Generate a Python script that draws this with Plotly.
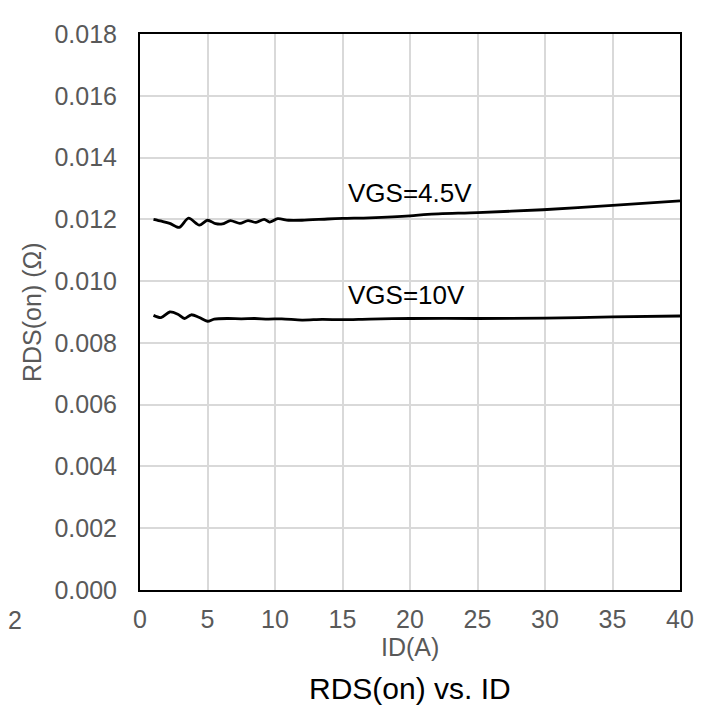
import plotly.graph_objects as go

# ---- data ----
id_45 = [1, 1.6, 2.2, 2.9, 3.6, 4.4, 5.0, 5.6, 6.1, 6.7, 7.4, 8.0, 8.6, 9.2, 9.6, 10.2,
         11, 12, 13.9, 15, 17, 20, 21.3, 25, 29.85, 35, 40]
r_45 = [0.01200, 0.01194, 0.01187, 0.01174, 0.01204, 0.01181, 0.01197, 0.01186, 0.01185,
        0.01196, 0.01187, 0.01196, 0.01190, 0.01200, 0.01191, 0.01202, 0.01197, 0.01197,
        0.01201, 0.01203, 0.01205, 0.01211, 0.01216, 0.01222, 0.01231, 0.01245, 0.01260]

id_10 = [1, 1.55, 2.2, 2.8, 3.3, 3.8, 4.4, 5.0, 5.5, 6.5, 7.5, 8.5, 9.5, 10.5, 12, 13.5,
         15, 17, 20, 25, 30, 35, 40]
r_10 = [0.00889, 0.00882, 0.00900, 0.00893, 0.00879, 0.00891, 0.00882, 0.00870, 0.00877,
        0.00879, 0.00878, 0.00879, 0.00877, 0.00878, 0.00874, 0.00876, 0.00875, 0.00877,
        0.00879, 0.00879, 0.00880, 0.00884, 0.00887]

series_labels = ["VGS=4.5V", "VGS=10V"]
label_x = [15.26, 15.26]
label_y = [0.01286, 0.00956]

x_ticks = [0, 5, 10, 15, 20, 25, 30, 35, 40]
y_ticks = [0.000, 0.002, 0.004, 0.006, 0.008, 0.010, 0.012, 0.014, 0.016, 0.018]

FONT = "Liberation Sans, Arial, sans-serif"
GRAY = "#595959"

fig = go.Figure()
fig.add_trace(go.Scatter(x=id_45, y=r_45, mode="lines", line=dict(color="black", width=2.8, shape="spline", smoothing=0.8),
                         showlegend=False, hoverinfo="skip"))
fig.add_trace(go.Scatter(x=id_10, y=r_10, mode="lines", line=dict(color="black", width=2.8, shape="spline", smoothing=0.8),
                         showlegend=False, hoverinfo="skip"))

annotations = []
for t, lx, ly in zip(series_labels, label_x, label_y):
    annotations.append(dict(x=lx, y=ly, xref="x", yref="y", text=t, showarrow=False,
                            xanchor="left", yanchor="middle", font=dict(family=FONT, size=26, color="black")))

# axis titles and caption
annotations.append(dict(x=-108 / 540, y=0.5, xref="paper", yref="paper", text="RDS(on) (Ω)",
                        textangle=-90, showarrow=False, xanchor="center", yanchor="middle",
                        font=dict(family=FONT, size=25, color=GRAY)))
annotations.append(dict(x=0.5, y=-58 / 564, xref="paper", yref="paper", text="ID(A)",
                        showarrow=False, xanchor="center", yanchor="middle",
                        font=dict(family=FONT, size=25, color=GRAY)))
annotations.append(dict(x=0.5, y=-100 / 564, xref="paper", yref="paper", text="RDS(on) vs. ID",
                        showarrow=False, xanchor="center", yanchor="middle",
                        font=dict(family=FONT, size=30, color="black")))
# clipped tick label from neighbouring chart
annotations.append(dict(x=-125 / 540, y=-30 / 564, xref="paper", yref="paper", text="2",
                        showarrow=False, xanchor="center", yanchor="middle",
                        font=dict(family=FONT, size=25, color=GRAY)))

fig.update_layout(
    width=702, height=706,
    margin=dict(l=132, r=30, t=19, b=124, pad=0),
    paper_bgcolor="white", plot_bgcolor="white",
    font=dict(family=FONT, size=25, color=GRAY),
    annotations=annotations,
    xaxis=dict(range=[0, 40], tickvals=x_ticks, ticktext=[str(v) for v in x_ticks],
               showgrid=True, gridcolor="#d9d9d9", gridwidth=1.5,
               showline=True, linecolor="black", linewidth=2, mirror=True,
               ticks="", ticklabelstandoff=6, zeroline=False,
               tickfont=dict(family=FONT, size=25, color=GRAY)),
    yaxis=dict(range=[0, 0.018], tickvals=y_ticks, ticktext=[f"{v:.3f}" for v in y_ticks],
               showgrid=True, gridcolor="#d9d9d9", gridwidth=1.5,
               showline=True, linecolor="black", linewidth=2, mirror=True,
               ticks="", ticklabelstandoff=16, zeroline=False,
               tickfont=dict(family=FONT, size=25, color=GRAY)),
)

fig.write_html("out.html")
